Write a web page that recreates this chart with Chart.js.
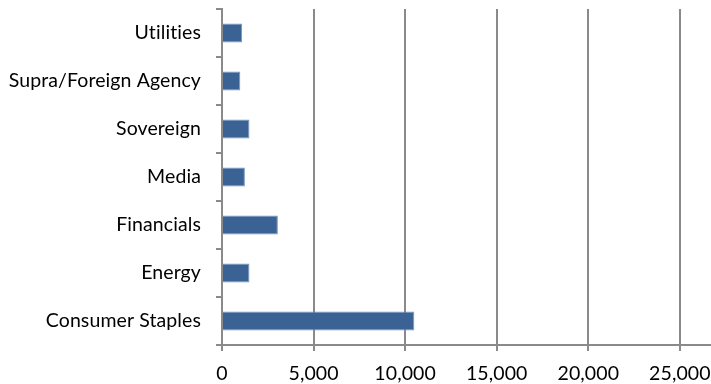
<!DOCTYPE html>
<html>
<head>
<meta charset="utf-8">
<script src="https://cdn.jsdelivr.net/npm/chart.js@4/dist/chart.umd.min.js"></script>
<style>
  html, body { margin: 0; padding: 0; background: #ffffff; }
  #wrap { width: 711px; height: 384px; position: relative; }
</style>
</head>
<body>
<div id="wrap"><canvas id="chart"></canvas></div>
<script>
// Sectors, listed top to bottom
const sectors = [
  'Utilities',
  'Supra/Foreign Agency',
  'Sovereign',
  'Media',
  'Financials',
  'Energy',
  'Consumer Staples'
];
// Exposure per sector
const exposure = [1100, 1000, 1500, 1250, 3050, 1500, 10500];
// Value axis ticks
const axisTicks = [0, 5000, 10000, 15000, 20000, 25000];
const axisMax = 26700;

const gridGray = '#8a8a8a';
const labelFont = { family: 'Lato', size: 19.5 };

// Slight tracking keeps Lato from joining "ti" into a ligature
const textTracking = {
  id: 'textTracking',
  beforeDraw(chart) { chart.ctx.letterSpacing = '0.1px'; }
};

new Chart(document.getElementById('chart'), {
  type: 'bar',
  data: {
    labels: sectors,
    datasets: [{
      data: exposure,
      backgroundColor: '#3A6295',
      borderColor: '#7396C4',
      borderWidth: 1,
      barPercentage: 0.4,
      categoryPercentage: 1.0
    }]
  },
  plugins: [textTracking],
  options: {
    indexAxis: 'y',
    responsive: true,
    maintainAspectRatio: false,
    animation: false,
    layout: { padding: { top: 9, right: 0, bottom: 0, left: 0 } },
    plugins: { legend: { display: false }, tooltip: { enabled: false } },
    scales: {
      x: {
        type: 'linear',
        min: 0,
        max: axisMax,
        afterBuildTicks: (scale) => {
          scale.ticks = axisTicks.map(v => ({ value: v }));
        },
        afterFit: (scale) => {
          scale.height = 39;
          scale.paddingLeft = 0;
          scale.paddingRight = 0;
        },
        ticks: {
          color: '#000000',
          font: labelFont,
          padding: 11,
          maxRotation: 0,
          callback: (v) => v.toLocaleString('en-US')
        },
        grid: {
          color: gridGray,
          lineWidth: 2,
          tickLength: 6,
          drawTicks: true
        },
        border: { color: gridGray, width: 2 }
      },
      y: {
        type: 'category',
        afterFit: (scale) => {
          scale.width = 222;
          scale.paddingTop = 0;
          scale.paddingBottom = 0;
        },
        ticks: {
          color: '#000000',
          font: labelFont,
          padding: 15
        },
        grid: {
          offset: true,
          drawOnChartArea: false,
          color: gridGray,
          lineWidth: 2,
          tickLength: 6
        },
        border: { color: gridGray, width: 2 }
      }
    }
  }
});
</script>
</body>
</html>
